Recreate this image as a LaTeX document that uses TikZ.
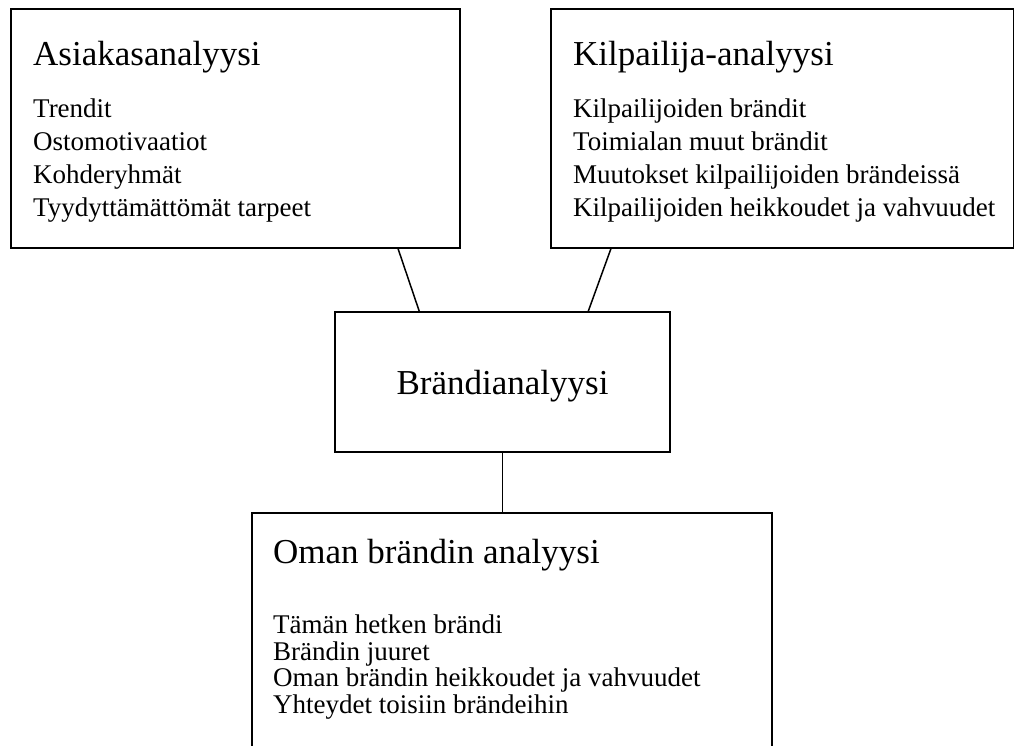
\documentclass[tikz,border=0pt]{standalone}
\usepackage{fontspec}
\setmainfont{Liberation Serif}
\usetikzlibrary{positioning}

\begin{document}
\begin{tikzpicture}[
    x=1pt, y=-1pt,
    panel/.style={rectangle, draw=black, line width=1.5pt, inner sep=0pt, anchor=north west},
    heading/.style={inner sep=0pt, anchor=base west, font=\fontsize{35}{40}\selectfont},
    items/.style={inner sep=0pt, anchor=north west, align=left, font=\fontsize{27}{33}\selectfont},
    link/.style={line width=1.5pt}
]
    \useasboundingbox (0,0) rectangle (1014,745);

    \node[panel, minimum width=449pt, minimum height=239pt] (cust) at (10,8) {};
    \node[panel, minimum width=463pt, minimum height=239pt] (comp) at (550,8) {};
    \node[panel, minimum width=335pt, minimum height=140pt, anchor=center, text depth=0pt,
          font=\fontsize{35}{40}\selectfont] (brand) at (502.5,382) {Brändianalyysi};
    \node[panel, minimum width=520pt, minimum height=260pt] (own) at (251,512) {};

    \node[heading] (custhead) at ([shift={(23pt,-57pt)}]cust.north west) {Asiakasanalyysi};
    \node[items] (custlist) at ([shift={(23pt,-90.6pt)}]cust.north west)
        {Trendit\\ Ostomotivaatiot\\ Kohderyhmät\\ Tyydyttämättömät tarpeet};

    \node[heading] (comphead) at ([shift={(23pt,-57pt)}]comp.north west) {Kilpailija-analyysi};
    \node[items] (complist) at ([shift={(23pt,-90.6pt)}]comp.north west)
        {Kilpailijoiden brändit\\ Toimialan muut brändit\\ Muutokset kilpailijoiden brändeissä\\ Kilpailijoiden heikkoudet ja vahvuudet};

    \node[heading] (ownhead) at ([shift={(22pt,-51pt)}]own.north west) {Oman brändin analyysi};
    \node[items, font=\fontsize{27}{26.7}\selectfont] (ownlist) at ([shift={(22pt,-102.6pt)}]own.north west)
        {Tämän hetken brändi\\ Brändin juuret\\ Oman brändin heikkoudet ja vahvuudet\\ Yhteydet toisiin brändeihin};

    \draw[link] ([xshift=388pt]cust.south west) -- ([xshift=85pt]brand.north west);
    \draw[link] ([xshift=61pt]comp.south west) -- ([xshift=254pt]brand.north west);
    \draw[link] (brand.south) -- (brand.south |- own.north);
\end{tikzpicture}
\end{document}
